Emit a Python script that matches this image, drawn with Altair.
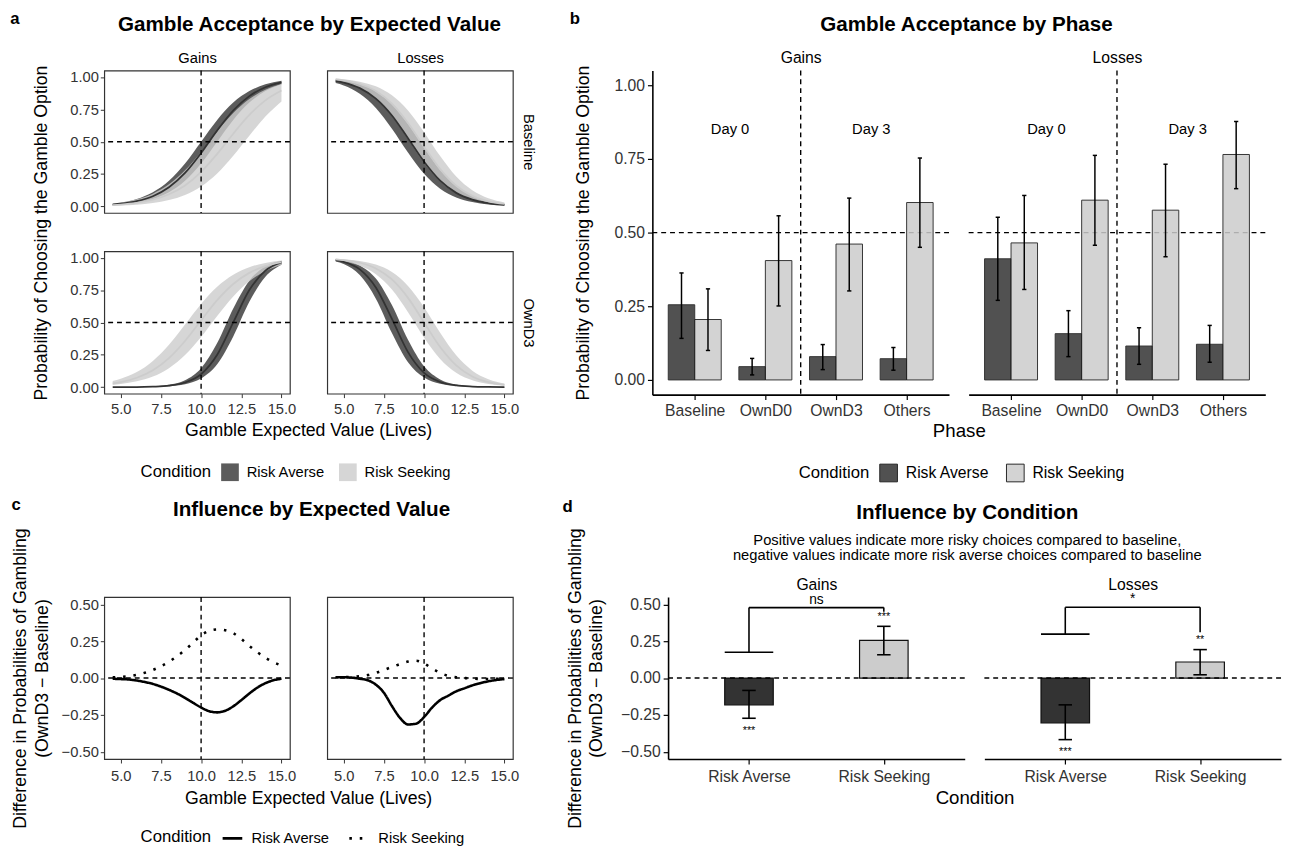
import json
import altair as alt
import pandas as pd

FONT = "Liberation Sans"
NFONT = "Liberation Sans Narrow, Liberation Sans, sans-serif"
TICK_INK = "#333333"

conditions = ["Risk Averse", "Risk Seeking"]
domains = ["Gains", "Losses"]
cond_fill = ["#333333", "#cccccc"]

# ---------------- panel a : fitted acceptance curves ----------------
ev_a = [4.5, 5, 6, 7, 8, 9, 10, 11, 12, 13, 14, 15]
a_phases = ["Baseline", "OwnD3"]

base_gain_ra_mid = [0.015, 0.021, 0.041, 0.079, 0.148, 0.259, 0.413, 0.587, 0.741, 0.852, 0.921, 0.959]
base_gain_ra_hi = [0.021, 0.029, 0.057, 0.109, 0.198, 0.332, 0.500, 0.668, 0.802, 0.891, 0.943, 0.971]
base_gain_ra_lo = [0.010, 0.015, 0.029, 0.057, 0.109, 0.198, 0.332, 0.500, 0.668, 0.802, 0.891, 0.943]
base_gain_rs_mid = [0.011, 0.015, 0.028, 0.052, 0.094, 0.162, 0.267, 0.406, 0.562, 0.707, 0.819, 0.895]
base_gain_rs_hi = [0.022, 0.030, 0.055, 0.099, 0.171, 0.279, 0.421, 0.579, 0.721, 0.829, 0.901, 0.945]
base_gain_rs_lo = [0.006, 0.008, 0.014, 0.027, 0.049, 0.089, 0.154, 0.255, 0.392, 0.547, 0.694, 0.810]

base_loss_ra_mid = [0.970, 0.957, 0.914, 0.833, 0.703, 0.527, 0.345, 0.199, 0.105, 0.053, 0.026, 0.012]
base_loss_ra_hi = [0.981, 0.972, 0.943, 0.887, 0.788, 0.636, 0.453, 0.281, 0.156, 0.080, 0.039, 0.019]
base_loss_ra_lo = [0.954, 0.935, 0.871, 0.761, 0.601, 0.416, 0.252, 0.137, 0.070, 0.034, 0.016, 0.008]
base_loss_rs_mid = [0.982, 0.974, 0.946, 0.892, 0.795, 0.645, 0.462, 0.288, 0.160, 0.082, 0.040, 0.020]
base_loss_rs_hi = [0.988, 0.983, 0.964, 0.928, 0.858, 0.741, 0.574, 0.389, 0.231, 0.125, 0.063, 0.031]
base_loss_rs_lo = [0.969, 0.956, 0.911, 0.829, 0.696, 0.520, 0.336, 0.193, 0.102, 0.051, 0.025, 0.012]

own3_gain_ra_mid = [0.000, 0.001, 0.001, 0.004, 0.012, 0.036, 0.100, 0.250, 0.500, 0.750, 0.900, 0.964]
own3_gain_ra_hi = [0.000, 0.001, 0.002, 0.006, 0.019, 0.054, 0.147, 0.341, 0.608, 0.823, 0.933, 0.977]
own3_gain_ra_lo = [0.000, 0.000, 0.001, 0.003, 0.008, 0.023, 0.067, 0.177, 0.392, 0.659, 0.853, 0.946]
own3_gain_rs_mid = [0.029, 0.040, 0.073, 0.131, 0.225, 0.357, 0.516, 0.672, 0.797, 0.883, 0.935, 0.965]
own3_gain_rs_hi = [0.047, 0.065, 0.117, 0.203, 0.328, 0.484, 0.643, 0.776, 0.869, 0.927, 0.960, 0.979]
own3_gain_rs_lo = [0.017, 0.024, 0.045, 0.082, 0.147, 0.248, 0.387, 0.549, 0.701, 0.818, 0.896, 0.943]

own3_loss_ra_mid = [0.981, 0.968, 0.910, 0.770, 0.527, 0.271, 0.110, 0.040, 0.014, 0.005, 0.002, 0.001]
own3_loss_ra_hi = [0.988, 0.979, 0.940, 0.839, 0.634, 0.366, 0.161, 0.060, 0.021, 0.007, 0.002, 0.001]
own3_loss_ra_lo = [0.971, 0.951, 0.866, 0.684, 0.418, 0.193, 0.074, 0.026, 0.009, 0.003, 0.001, 0.000]
own3_loss_rs_mid = [0.988, 0.982, 0.961, 0.917, 0.832, 0.690, 0.500, 0.310, 0.168, 0.083, 0.039, 0.018]
own3_loss_rs_hi = [0.992, 0.989, 0.975, 0.947, 0.889, 0.782, 0.618, 0.421, 0.246, 0.128, 0.062, 0.029]
own3_loss_rs_lo = [0.980, 0.971, 0.938, 0.872, 0.754, 0.579, 0.382, 0.218, 0.111, 0.053, 0.025, 0.011]

curves_a = {
    ("Baseline", "Gains", "Risk Averse"): (base_gain_ra_mid, base_gain_ra_lo, base_gain_ra_hi),
    ("Baseline", "Gains", "Risk Seeking"): (base_gain_rs_mid, base_gain_rs_lo, base_gain_rs_hi),
    ("Baseline", "Losses", "Risk Averse"): (base_loss_ra_mid, base_loss_ra_lo, base_loss_ra_hi),
    ("Baseline", "Losses", "Risk Seeking"): (base_loss_rs_mid, base_loss_rs_lo, base_loss_rs_hi),
    ("OwnD3", "Gains", "Risk Averse"): (own3_gain_ra_mid, own3_gain_ra_lo, own3_gain_ra_hi),
    ("OwnD3", "Gains", "Risk Seeking"): (own3_gain_rs_mid, own3_gain_rs_lo, own3_gain_rs_hi),
    ("OwnD3", "Losses", "Risk Averse"): (own3_loss_ra_mid, own3_loss_ra_lo, own3_loss_ra_hi),
    ("OwnD3", "Losses", "Risk Seeking"): (own3_loss_rs_mid, own3_loss_rs_lo, own3_loss_rs_hi),
}

ev_ticks = [5, 7.5, 10, 12.5, 15]
prob_ticks = [0, 0.25, 0.5, 0.75, 1]
ref_ev = [10]
ref_prob = [0.5]

# ---------------- panel b : acceptance by phase ----------------
phases = ["Baseline", "OwnD0", "OwnD3", "Others"]
day_names = ["Day 0", "Day 3"]
day_label_y = 0.85
b_gain_ra = [0.255, 0.045, 0.079, 0.072]
b_gain_ra_lo = [0.141, 0.017, 0.035, 0.033]
b_gain_ra_hi = [0.363, 0.073, 0.120, 0.110]
b_gain_rs = [0.205, 0.405, 0.461, 0.602]
b_gain_rs_lo = [0.100, 0.251, 0.302, 0.450]
b_gain_rs_hi = [0.309, 0.557, 0.617, 0.753]
b_loss_ra = [0.411, 0.157, 0.115, 0.121]
b_loss_ra_lo = [0.270, 0.079, 0.053, 0.060]
b_loss_ra_hi = [0.552, 0.235, 0.177, 0.185]
b_loss_rs = [0.465, 0.610, 0.576, 0.765]
b_loss_rs_lo = [0.307, 0.457, 0.418, 0.649]
b_loss_rs_hi = [0.626, 0.762, 0.732, 0.877]
b_data = {
    ("Gains", "Risk Averse"): (b_gain_ra, b_gain_ra_lo, b_gain_ra_hi),
    ("Gains", "Risk Seeking"): (b_gain_rs, b_gain_rs_lo, b_gain_rs_hi),
    ("Losses", "Risk Averse"): (b_loss_ra, b_loss_ra_lo, b_loss_ra_hi),
    ("Losses", "Risk Seeking"): (b_loss_rs, b_loss_rs_lo, b_loss_rs_hi),
}

# ---------------- panel c : difference curves ----------------
ev_c = [4.5, 5, 5.5, 6, 6.5, 7, 7.5, 8, 8.5, 9, 9.5, 10, 10.5, 11, 11.5, 12, 12.5, 13, 13.5, 14, 14.5, 15]
c_gain_ra = [-0.005, -0.007, -0.010, -0.017, -0.027, -0.040, -0.058, -0.080, -0.105, -0.135, -0.168,
             -0.200, -0.225, -0.233, -0.222, -0.192, -0.150, -0.105, -0.065, -0.035, -0.015, -0.005]
c_gain_rs = [0.005, 0.007, 0.012, 0.022, 0.036, 0.055, 0.080, 0.110, 0.148, 0.190, 0.240,
             0.290, 0.320, 0.330, 0.325, 0.305, 0.265, 0.218, 0.175, 0.138, 0.108, 0.085]
c_loss_ra = [0.005, 0.005, 0.003, -0.005, -0.015, -0.045, -0.100, -0.190, -0.270, -0.315, -0.310,
             -0.265, -0.200, -0.150, -0.120, -0.090, -0.070, -0.050, -0.035, -0.022, -0.013, -0.007]
c_loss_rs = [0.005, 0.006, 0.008, 0.012, 0.020, 0.035, 0.055, 0.075, 0.095, 0.112, 0.118,
             0.098, 0.065, 0.035, 0.015, 0.005, 0.000, -0.004, -0.006, -0.006, -0.005, -0.004]
c_data = {
    ("Gains", "Risk Averse"): c_gain_ra, ("Gains", "Risk Seeking"): c_gain_rs,
    ("Losses", "Risk Averse"): c_loss_ra, ("Losses", "Risk Seeking"): c_loss_rs,
}
diff_ticks = [-0.5, -0.25, 0, 0.25, 0.5]
ref_zero = [0]

# ---------------- panel d : influence by condition ----------------
d_value = {"Gains": [-0.182, 0.256], "Losses": [-0.304, 0.109]}
d_lo = {"Gains": [-0.273, 0.158], "Losses": [-0.418, 0.022]}
d_hi = {"Gains": [-0.084, 0.351], "Losses": [-0.182, 0.193]}
d_sig = {"Gains": ["***", "***"], "Losses": ["***", "**"]}
d_bracket_label = {"Gains": "ns", "Losses": "*"}
d_bracket_top = {"Gains": 0.478, "Losses": 0.480}
d_bracket_left_end = {"Gains": 0.175, "Losses": 0.298}
d_bracket_right_end = {"Gains": 0.450, "Losses": 0.310}

B_DODGE = 0.75
B_CAP = 0.03
D_BAR = 0.36
D_CAP = 0.05

color_scale = alt.Scale(domain=conditions, range=cond_fill)
dash_style = dict(strokeDash=[5, 4], strokeWidth=1.4, color="black")

A_AX = dict(labelFont=FONT, labelFontSize=15, labelColor=TICK_INK, tickColor=TICK_INK, tickSize=4,
            tickWidth=1, domain=False, grid=False, titleFont=FONT, titleFontSize=18,
            titleFontWeight="normal", titleColor="black")
B_AX = dict(labelFont=NFONT, labelFontSize=16, labelColor=TICK_INK, tickColor="black", tickSize=5,
            tickWidth=1.2, domain=True, domainColor="black", domainWidth=1.6, grid=False,
            titleFont=NFONT, titleFontSize=19, titleFontWeight="normal", titleColor="black")


def strip_axis(text, font, size):
    return alt.Axis(orient="top", title=text, labels=False, ticks=False, domain=False, grid=False,
                    titleFont=font, titleFontSize=size, titleFontWeight="normal", titleColor="black",
                    titlePadding=5)


def legend_fill(x, y, stroke):
    return alt.Legend(title="Condition", orient="none", legendX=x, legendY=y, direction="horizontal",
                      titleOrient="left", titleFont=FONT if not stroke else NFONT, titleFontSize=17,
                      titleFontWeight="normal", titleColor="black", labelFont=FONT if not stroke else NFONT,
                      labelFontSize=15 if not stroke else 16, labelColor="black", symbolType="square",
                      symbolSize=324, symbolOpacity=0.85 if stroke else 0.8,
                      symbolStrokeColor="black" if stroke else "#333333",
                      symbolStrokeWidth=1 if stroke else 0, columnPadding=14, labelOffset=8,
                      titlePadding=10)


leg_a = legend_fill(37, 400, False)
leg_b = legend_fill(149, 400, True)
leg_c = alt.Legend(title="Condition", orient="none", legendX=37, legendY=234, direction="horizontal",
                   titleOrient="left", titleFont=FONT, titleFontSize=17, titleFontWeight="normal",
                   titleColor="black", labelFont=FONT, labelFontSize=15, labelColor="black",
                   symbolType="stroke", symbolSize=400, symbolStrokeWidth=2.6, symbolStrokeColor="black",
                   columnPadding=14, labelOffset=8, titlePadding=10)


def panel_a_cell(phase, dom, left, bottom, top):
    rows = []
    for cond in conditions:
        mid, lo, hi = curves_a[(phase, dom, cond)]
        for x, m, l, h in zip(ev_a, mid, lo, hi):
            rows.append({"ev": x, "mid": m, "lo": l, "hi": h, "cond": cond})
    df = pd.DataFrame(rows)
    xs = alt.Scale(domain=[3.975, 15.525], nice=False, zero=False)
    ys = alt.Scale(domain=[-0.05, 1.05], nice=False, zero=False)
    if bottom:
        xaxis = alt.Axis(values=ev_ticks, format=".1f",
                         title="Gamble Expected Value (Lives)" if left else None,
                         titleX=207.5, titlePadding=6, labelPadding=4, **A_AX)
    else:
        xaxis = None
    if left:
        yaxis = alt.Axis(values=prob_ticks, format=".2f",
                         title="Probability of Choosing the Gamble Option" if top else None,
                         titleY=165, titlePadding=20, labelPadding=2, **A_AX)
    else:
        yaxis = alt.Axis(orient="right", labels=False, ticks=False, domain=False, grid=False,
                         title=phase, titleAngle=90, titleFont=FONT, titleFontSize=15,
                         titleFontWeight="normal", titleColor="black", titlePadding=8)

    def Y(f):
        return alt.Y(f, scale=ys, axis=yaxis, stack=None)

    band = alt.Chart(df).mark_area(opacity=0.8, interpolate="monotone").encode(
        x=alt.X("ev:Q", scale=xs, axis=xaxis), y=Y("lo:Q"), y2="hi:Q",
        color=alt.Color("cond:N", scale=color_scale, legend=leg_a),
    )
    line = alt.Chart(df).mark_line(interpolate="monotone", strokeWidth=1.8).encode(
        x=alt.X("ev:Q", scale=xs, axis=xaxis if not top else None), y=Y("mid:Q"),
        color=alt.Color("cond:N", scale=color_scale, legend=leg_a),
    )
    vaxis = strip_axis(dom, FONT, 15) if top else xaxis
    vline = alt.Chart(pd.DataFrame({"v": ref_ev})).mark_rule(**dash_style).encode(
        x=alt.X("v:Q", scale=xs, axis=vaxis))
    hline = alt.Chart(pd.DataFrame({"v": ref_prob})).mark_rule(**dash_style).encode(y=Y("v:Q"))
    ch = alt.layer(band, line, vline, hline)
    if top:
        ch = ch.resolve_scale(x="independent")
    return ch.properties(width=189, height=145,
                         view=alt.ViewBackground(stroke="#333333", strokeWidth=1.2))


def panel_b_cell(dom, left):
    rows = []
    for ci, cond in enumerate(conditions):
        vals, lows, highs = b_data[(dom, cond)]
        for pi, ph in enumerate(phases):
            start = (pi + 1) - B_DODGE / 2 + ci * B_DODGE / 2
            mid = start + B_DODGE / 4
            rows.append({"phase": ph, "cond": cond, "x0": start, "x1": start + B_DODGE / 2,
                         "xm": mid, "c0": mid - B_CAP, "c1": mid + B_CAP,
                         "v": vals[pi], "lo": lows[pi], "hi": highs[pi]})
    df = pd.DataFrame(rows)
    xs = alt.Scale(domain=[0.4, len(phases) + 0.6], nice=False, zero=False)
    ys = alt.Scale(domain=[-0.05, 1.05], nice=False, zero=False)
    label_expr = json.dumps(phases) + "[datum.value - 1]"
    xaxis = alt.Axis(values=list(range(1, len(phases) + 1)), labelExpr=label_expr,
                     title="Phase" if left else None, titleX=312, titlePadding=4, labelPadding=3, **B_AX)
    if left:
        ax = dict(B_AX)
        ax.update(titleFont=FONT, titleFontSize=18)
        yaxis = alt.Axis(values=prob_ticks, format=".2f", labelPadding=3,
                         title="Probability of Choosing the Gamble Option", titlePadding=22, **ax)
    else:
        yaxis = None

    def X(f, axis=None):
        return alt.X(f, scale=xs, axis=axis)

    def Y(f):
        return alt.Y(f, scale=ys, axis=yaxis, stack=None)

    hline = alt.Chart(pd.DataFrame({"v": ref_prob})).mark_rule(**dash_style).encode(y=Y("v:Q"))
    split = [(len(phases) + 1) / 2]
    vline = alt.Chart(pd.DataFrame({"v": split})).mark_rule(**dash_style).encode(
        x=X("v:Q", strip_axis(dom, NFONT, 16)))
    bars = alt.Chart(df).mark_bar(stroke="#111111", strokeWidth=1, opacity=0.85).encode(
        x=X("x0:Q", xaxis), x2="x1:Q", y=Y("v:Q"), y2=alt.datum(0),
        color=alt.Color("cond:N", scale=color_scale, legend=leg_b),
    )
    err = alt.Chart(df).mark_rule(color="black", strokeWidth=1.5).encode(
        x=X("xm:Q"), y=Y("lo:Q"), y2="hi:Q")
    cap_hi = alt.Chart(df).mark_rule(color="black", strokeWidth=1.5).encode(
        x=X("c0:Q"), x2="c1:Q", y=Y("hi:Q"))
    cap_lo = alt.Chart(df).mark_rule(color="black", strokeWidth=1.5).encode(
        x=X("c0:Q"), x2="c1:Q", y=Y("lo:Q"))
    half = len(phases) // 2
    day_df = pd.DataFrame({"label": day_names,
                           "x": [(1 + half) / 2, (half + 1 + len(phases)) / 2],
                           "y": [day_label_y] * len(day_names)})
    days = alt.Chart(day_df).mark_text(font=NFONT, fontSize=15, color="black").encode(
        x=X("x:Q"), y=Y("y:Q"), text="label:N")
    return alt.layer(hline, vline, bars, err, cap_hi, cap_lo, days).resolve_scale(
        x="independent").properties(width=302, height=330)


def panel_c_cell(dom, left):
    rows = []
    for cond in conditions:
        for x, v in zip(ev_c, c_data[(dom, cond)]):
            rows.append({"ev": x, "d": v, "cond": cond})
    df = pd.DataFrame(rows)
    xs = alt.Scale(domain=[3.975, 15.525], nice=False, zero=False)
    ys = alt.Scale(domain=[-0.55, 0.55], nice=False, zero=False)
    xaxis = alt.Axis(values=ev_ticks, format=".1f",
                     title="Gamble Expected Value (Lives)" if left else None,
                     titleX=207.5, titlePadding=6, labelPadding=6, **A_AX)
    if left:
        yaxis = alt.Axis(values=diff_ticks, format=".2f",
                         title=["Difference in Probabilities of Gambling", "(OwnD3 \u2212 Baseline)"],
                         titlePadding=10, titleLineHeight=22, labelPadding=2, **A_AX)
    else:
        yaxis = None

    def X(f):
        return alt.X(f, scale=xs, axis=xaxis)

    def Y(f):
        return alt.Y(f, scale=ys, axis=yaxis, stack=None)

    lines = alt.Chart(df).mark_line(color="black", strokeWidth=2.6, interpolate="monotone").encode(
        x=X("ev:Q"), y=Y("d:Q"),
        strokeDash=alt.StrokeDash("cond:N", scale=alt.Scale(domain=conditions, range=[[1, 0], [2.6, 8]]),
                                  legend=leg_c),
    )
    vline = alt.Chart(pd.DataFrame({"v": ref_ev})).mark_rule(**dash_style).encode(x=X("v:Q"))
    hline = alt.Chart(pd.DataFrame({"v": ref_zero})).mark_rule(**dash_style).encode(y=Y("v:Q"))
    return alt.layer(lines, vline, hline).properties(
        width=189, height=165, view=alt.ViewBackground(stroke="#333333", strokeWidth=1.2))


def panel_d_cell(dom, left):
    rows = []
    for ci, cond in enumerate(conditions):
        c = ci + 1
        v, l, h = d_value[dom][ci], d_lo[dom][ci], d_hi[dom][ci]
        rows.append({"cond": cond, "x0": c - D_BAR / 2, "x1": c + D_BAR / 2, "xm": c,
                     "c0": c - D_CAP, "c1": c + D_CAP, "v": v, "lo": l, "hi": h,
                     "sig": d_sig[dom][ci], "sy": (h + 0.065) if v > 0 else (l - 0.085)})
    df = pd.DataFrame(rows)
    xs = alt.Scale(domain=[0.4, len(conditions) + 0.6], nice=False, zero=False)
    ys = alt.Scale(domain=[-0.55, 0.55], nice=False, zero=False)
    label_expr = json.dumps(conditions) + "[datum.value - 1]"
    xaxis = alt.Axis(values=list(range(1, len(conditions) + 1)), labelExpr=label_expr,
                     title="Condition" if left else None, titleX=312, titlePadding=4, labelPadding=5,
                     **B_AX)
    if left:
        ax = dict(B_AX)
        ax.update(titleFont=FONT, titleFontSize=18)
        yaxis = alt.Axis(values=diff_ticks, format=".2f", labelPadding=3,
                         title=["Difference in Probabilities of Gambling", "(OwnD3 \u2212 Baseline)"],
                         titlePadding=15, titleLineHeight=22, **ax)
    else:
        yaxis = None

    def X(f, axis=None):
        return alt.X(f, scale=xs, axis=axis)

    def Y(f):
        return alt.Y(f, scale=ys, axis=yaxis, stack=None)

    bars = alt.Chart(df).mark_bar(stroke="#111111", strokeWidth=1.2).encode(
        x=X("x0:Q", xaxis), x2="x1:Q", y=Y("v:Q"), y2=alt.datum(0),
        color=alt.Color("cond:N", scale=color_scale, legend=None),
    )
    err = alt.Chart(df).mark_rule(color="black", strokeWidth=1.6).encode(
        x=X("xm:Q"), y=Y("lo:Q"), y2="hi:Q")
    cap_hi = alt.Chart(df).mark_rule(color="black", strokeWidth=1.6).encode(
        x=X("c0:Q"), x2="c1:Q", y=Y("hi:Q"))
    cap_lo = alt.Chart(df).mark_rule(color="black", strokeWidth=1.6).encode(
        x=X("c0:Q"), x2="c1:Q", y=Y("lo:Q"))
    zero = alt.Chart(pd.DataFrame({"v": ref_zero})).mark_rule(**dash_style).encode(y=Y("v:Q"))
    stars = alt.Chart(df).mark_text(font=NFONT, fontSize=11, color="black").encode(
        x=X("xm:Q"), y=Y("sy:Q"), text="sig:N")
    top = d_bracket_top[dom]
    le, re = d_bracket_left_end[dom], d_bracket_right_end[dom]
    seg = pd.DataFrame({
        "x": [1 - D_BAR / 2, 1, 1, 2],
        "x2": [1 + D_BAR / 2, 1, 2, 2],
        "y": [le, le, top, re],
        "y2": [le, top, top, top],
    })
    bracket = alt.Chart(seg).mark_rule(color="black", strokeWidth=1.6).encode(
        x=X("x:Q"), x2="x2:Q", y=Y("y:Q"), y2="y2:Q")
    blab = alt.Chart(pd.DataFrame({"t": [d_bracket_label[dom]], "x": [1.5], "y": [top]})).mark_text(
        font=NFONT, fontSize=14, color="black", baseline="bottom", dy=-1).encode(
        x=X("x:Q", strip_axis(dom, NFONT, 16)), y=Y("y:Q"), text="t:N")
    return alt.layer(bars, err, cap_hi, cap_lo, zero, bracket, blab, stars).resolve_scale(
        x="independent").properties(width=302, height=165)


def letter(t, dx, offset):
    return alt.Title(t, anchor="start", font=FONT, fontSize=17, fontWeight="bold", color="black",
                     dx=dx, offset=offset)


def indep(ch):
    return ch.resolve_scale(color="independent", strokeDash="independent").resolve_legend(
        color="independent", strokeDash="independent")


A = alt.concat(
    panel_a_cell("Baseline", "Gains", True, False, True),
    panel_a_cell("Baseline", "Losses", False, False, True),
    panel_a_cell("OwnD3", "Gains", True, True, False),
    panel_a_cell("OwnD3", "Losses", False, True, False),
    columns=2, spacing={"row": 39, "column": 38}, bounds="flush",
    title=alt.Title("Gamble Acceptance by Expected Value", font=FONT, fontSize=21, fontWeight="bold",
                    color="black", offset=16, dx=26, anchor="middle"),
)
A_w = indep(alt.vconcat(A, title=letter("a", -22, -14)))

B = alt.hconcat(
    panel_b_cell("Gains", True), panel_b_cell("Losses", False),
    spacing=20, bounds="flush",
    title=alt.Title("Gamble Acceptance by Phase", font=NFONT, fontSize=21, fontWeight="bold",
                    color="black", offset=15, dx=47, anchor="middle"),
)
B_w = indep(alt.vconcat(B, title=letter("b", -5, -14)))

C = alt.hconcat(
    panel_c_cell("Gains", True), panel_c_cell("Losses", False),
    spacing=38, bounds="flush",
    title=alt.Title("Influence by Expected Value", font=FONT, fontSize=21, fontWeight="bold",
                    color="black", offset=7, dx=47, anchor="middle"),
)
C_w = indep(alt.vconcat(C, title=letter("c", 0, -14)))

D = alt.hconcat(
    panel_d_cell("Gains", True), panel_d_cell("Losses", False),
    spacing=20, bounds="flush",
    title=alt.Title("Influence by Condition",
                    subtitle=["Positive values indicate more risky choices compared to baseline,",
                              "negative values indicate more risk averse choices compared to baseline"],
                    font=NFONT, fontSize=21, fontWeight="bold", color="black",
                    subtitleFont=NFONT, subtitleFontSize=15, subtitleColor="black",
                    subtitleLineHeight=16, subtitlePadding=10,
                    offset=-36, dx=44, anchor="middle"),
)
D_w = indep(alt.vconcat(D, title=letter("d", -4, -14)))

top_row = indep(alt.hconcat(A_w, B_w, spacing=33))
bottom_row = indep(alt.hconcat(C_w, D_w, spacing=43))

chart = indep(alt.vconcat(top_row, bottom_row, spacing=11)).properties(
    padding={"left": 2, "top": -6, "right": 0, "bottom": 0}
).configure(background="white").configure_view(stroke=None).configure_axis(grid=False)

chart.save("out.html", embed_options={"renderer": "svg", "actions": False})
